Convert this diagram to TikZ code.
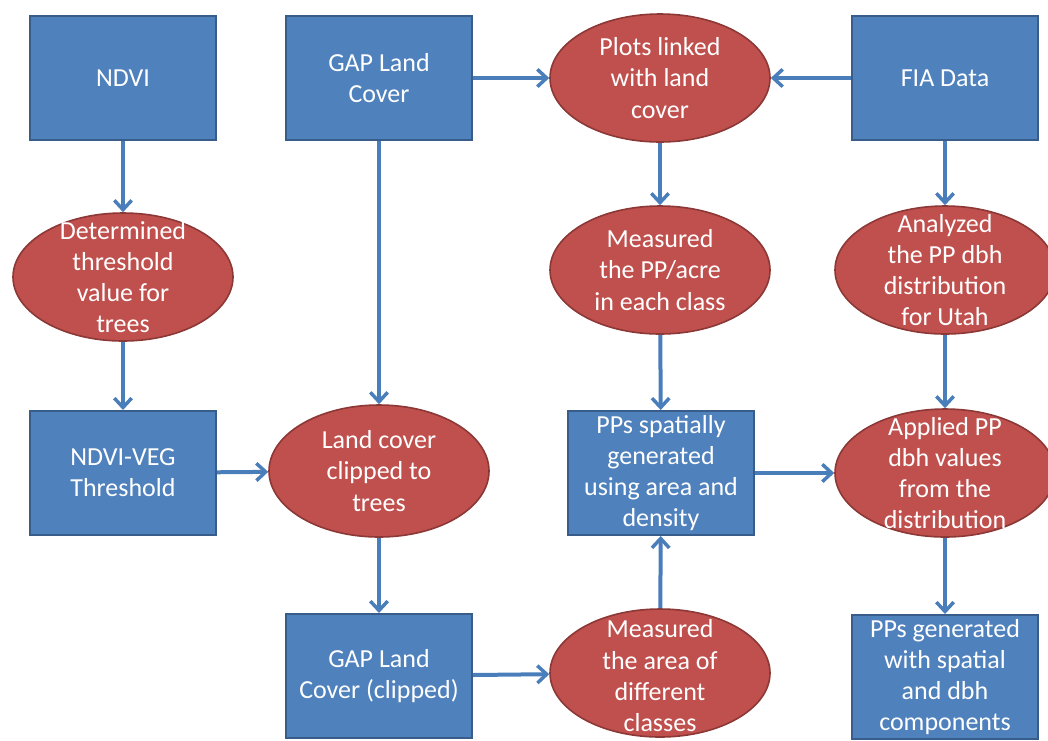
\documentclass[tikz,border=0pt]{standalone}
\usepackage{fontspec}
\setmainfont{Carlito}
\usetikzlibrary{shapes.geometric,arrows.meta}
\definecolor{boxfill}{HTML}{4F81BD}
\definecolor{boxline}{HTML}{385D8A}
\definecolor{ovfill}{HTML}{C0504D}
\definecolor{ovline}{HTML}{8C3836}
\definecolor{arr}{HTML}{4A7EBB}
\begin{document}
\begin{tikzpicture}[x=0.75pt,y=-0.75pt,
  stepbox/.style={draw=boxline,fill=boxfill,line width=1.5pt,minimum width=139.5pt,minimum height=93pt,inner sep=0pt},
  oval/.style={ellipse,draw=ovline,fill=ovfill,line width=1.2pt,minimum width=165pt,minimum height=96pt,inner sep=0pt},
  txt/.style={text=white,align=center,font=\fontsize{19.5}{23.4}\selectfont,inner sep=0pt},
  conn/.style={draw=arr,line width=3pt,-{Straight Barb[length=7pt,width=13pt,line width=2.6pt]}}
]
\useasboundingbox (0,0) rectangle (1048,740);
% boxes
\node[stepbox] (ndvi) at (123,78) {};
\node[txt] at (ndvi) {NDVI};
\node[stepbox] (gap) at (379,78) {};
\node[txt] at (gap) {GAP Land\\Cover};
\node[stepbox] (fia) at (945,78) {};
\node[txt] at (fia) {FIA Data};
\node[stepbox] (veg) at (123,473) {};
\node[txt] at (veg) {NDVI-VEG\\Threshold};
\node[stepbox] (pps) at (661,473) {};
\node[txt] at (pps) {PPs spatially\\generated\\using area and\\density};
\node[stepbox] (gapc) at (379,676) {};
\node[txt] at (gapc) {GAP Land\\Cover (clipped)};
\node[stepbox] (ppg) at (945,677) {};
\node[txt] at (ppg) {PPs generated\\with spatial\\and dbh\\components};
% ellipses
\node[oval] (plots) at (660,78) {};
\node[txt] at (plots) {Plots linked\\with land\\cover};
\node[oval] (det) at (123,277) {};
\node[txt] at (det) {Determined\\threshold\\value for\\trees};
\node[oval] (mpp) at (660,270) {};
\node[txt] at (mpp) {Measured\\the PP/acre\\in each class};
\node[oval] (ana) at (945,270) {};
\node[txt] at (ana) {Analyzed\\the PP dbh\\distribution\\for Utah};
\node[oval,minimum height=99pt] (lcc) at (379,471) {};
\node[txt] at (lcc) {Land cover\\clipped to\\trees};
\node[oval] (app) at (945,473) {};
\node[txt] at (app) {Applied PP\\dbh values\\from the\\distribution};
\node[oval] (marea) at (660,673) {};
\node[txt] at (marea.center) [yshift=-2pt] {Measured\\the area of\\different\\classes};
% connectors
\draw[conn] (ndvi) -- (det);
\draw[conn] (det) -- (veg);
\draw[conn] (gap) -- (lcc);
\draw[conn] (gap) -- (plots);
\draw[conn] (fia) -- (plots);
\draw[conn] (plots) -- (mpp);
\draw[conn] (fia) -- (ana);
\draw[conn] (mpp) -- (pps);
\draw[conn] (ana) -- (app);
\draw[conn] (veg) -- (lcc);
\draw[conn] (pps) -- (app);
\draw[conn] (lcc) -- (gapc);
\draw[conn] (gapc) -- (marea);
\draw[conn] (marea) -- (pps);
\draw[conn] (app) -- (ppg);
\end{tikzpicture}
\end{document}
